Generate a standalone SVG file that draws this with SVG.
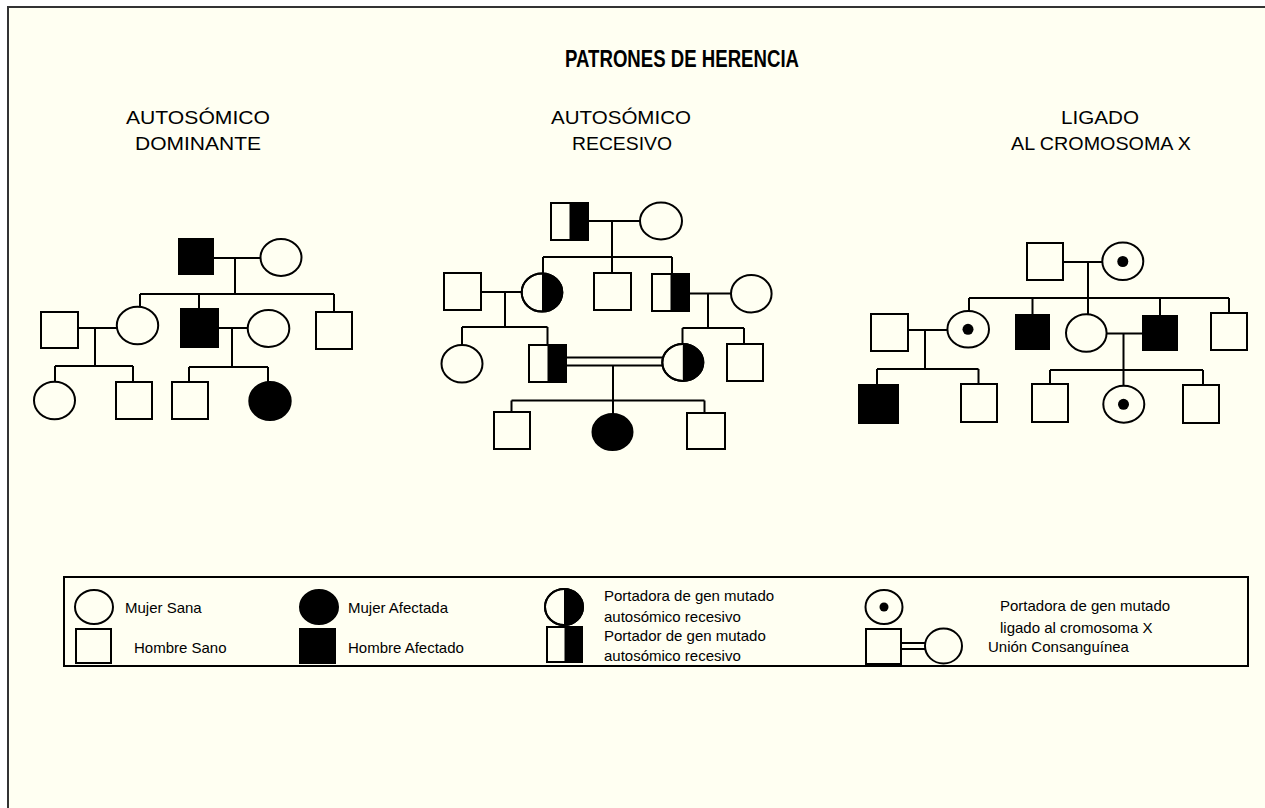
<svg xmlns="http://www.w3.org/2000/svg" width="1265" height="808" viewBox="0 0 1265 808">
<style>
.ln{stroke:#000;stroke-width:2;fill:none}
.o{fill:#FFFFF2;stroke:#000;stroke-width:2}
.f{fill:#000;stroke:#000;stroke-width:2}
.k{fill:#000;stroke:none}
.t{font-family:"Liberation Sans",Arial,sans-serif;fill:#000}
.sub{font-size:18px}
.lg{font-size:15px}
</style>
<rect x="0" y="0" width="1265" height="808" fill="#FFFFFF"/>
<rect x="8" y="7" width="1257" height="801" fill="#FFFFF2"/>
<path d="M8 808 V7 H1265" stroke="#333" stroke-width="2" fill="none"/>

<text class="t" x="682" y="67" font-size="23" font-weight="bold" text-anchor="middle" textLength="234" lengthAdjust="spacingAndGlyphs">PATRONES DE HERENCIA</text>

<g id="title-ad">
<text class="t sub" x="198" y="124" text-anchor="middle" textLength="144" lengthAdjust="spacingAndGlyphs">AUTOSÓMICO</text>
<text class="t sub" x="198" y="150" text-anchor="middle" textLength="126" lengthAdjust="spacingAndGlyphs">DOMINANTE</text>
</g>
<g id="title-ar">
<text class="t sub" x="621" y="124" text-anchor="middle" textLength="140" lengthAdjust="spacingAndGlyphs">AUTOSÓMICO</text>
<text class="t sub" x="622" y="150" text-anchor="middle" textLength="100" lengthAdjust="spacingAndGlyphs">RECESIVO</text>
</g>
<g id="title-x">
<text class="t sub" x="1100" y="124" text-anchor="middle" textLength="78" lengthAdjust="spacingAndGlyphs">LIGADO</text>
<text class="t sub" x="1101" y="150" text-anchor="middle" textLength="180" lengthAdjust="spacingAndGlyphs">AL CROMOSOMA X</text>
</g>

<g id="connectors">
<path class="ln" d="M213 258H260 M235 258V294 M140 294H334 M140 294V307 M199 294V309 M334 294V312 M78 328H117 M95 328V366 M55 366H133 M55 366V382 M133 366V382 M218 328H248 M232 328V367 M189 367H268 M189 367V382 M268 367V382"/>
<path class="ln" d="M588 221H640 M612 221V257 M543 257H672 M543 257V273.5 M612 257V273 M672 257V274 M481 292H522 M505 292V327 M462 327H547.5 M462 327V345 M547.5 327V345 M689 293.5H731 M708 293.5V328 M682.5 328H744 M682.5 328V344 M744 328V344 M566 357.5H663 M566 365.5H663 M613 365.5V400.5 M511.5 400.5H704.5 M511.5 400.5V412 M613 400.5V414 M704.5 400.5V413"/>
<path class="ln" d="M1063 262H1102 M1088 262V298 M969 298H1229 M969 298V311 M1032.5 298V315 M1088 298V314.5 M1160 298V316 M1229 298V313 M908 330H947.5 M925 330V369 M877 369H978.5 M877 369V385 M978.5 369V384 M1106.5 333.5H1143 M1123.5 333.5V386 M1050 370H1203 M1050 370V384 M1203 370V385"/>
</g>

<!-- Autosómico dominante -->
<g id="ad-I1"><rect class="f" x="179" y="239" width="34" height="35"/></g>
<g id="ad-I2"><ellipse class="o" cx="281" cy="257.5" rx="20.5" ry="18.5"/></g>
<g id="ad-II1"><rect class="o" x="41" y="312" width="37" height="36"/></g>
<g id="ad-II2"><ellipse class="o" cx="137.5" cy="325.5" rx="20.7" ry="18.7"/></g>
<g id="ad-II3"><rect class="f" x="181" y="309" width="37" height="38"/></g>
<g id="ad-II4"><ellipse class="o" cx="268.5" cy="328.5" rx="20.8" ry="18.5"/></g>
<g id="ad-II5"><rect class="o" x="316" y="312" width="36" height="37"/></g>
<g id="ad-III1"><ellipse class="o" cx="54.5" cy="400.5" rx="20.5" ry="18.7"/></g>
<g id="ad-III2"><rect class="o" x="116" y="382" width="36" height="37"/></g>
<g id="ad-III3"><rect class="o" x="172" y="382" width="36" height="37"/></g>
<g id="ad-III4"><ellipse class="f" cx="270" cy="401" rx="20.7" ry="19"/></g>

<!-- Autosómico recesivo -->
<g id="ar-I1"><rect class="o" x="551" y="203" width="37" height="37"/><rect class="k" x="569.5" y="203" width="18.5" height="37"/><rect class="ln" x="551" y="203" width="37" height="37"/></g>
<g id="ar-I2"><ellipse class="o" cx="661" cy="221" rx="21" ry="18.5"/></g>
<g id="ar-II1"><rect class="o" x="444" y="273" width="37" height="37"/></g>
<g id="ar-II2"><ellipse class="o" cx="542" cy="292.5" rx="20.3" ry="19"/><path class="k" d="M542 273.5A20.3 19 0 0 1 542 311.5Z"/><ellipse class="ln" cx="542" cy="292.5" rx="20.3" ry="19"/></g>
<g id="ar-II3"><rect class="o" x="594" y="273" width="37" height="37"/></g>
<g id="ar-II4"><rect class="o" x="652" y="274" width="37" height="37"/><rect class="k" x="670.5" y="274" width="18.5" height="37"/><rect class="ln" x="652" y="274" width="37" height="37"/></g>
<g id="ar-II5"><ellipse class="o" cx="751.3" cy="293.7" rx="20.3" ry="18.7"/></g>
<g id="ar-III1"><ellipse class="o" cx="462" cy="363.7" rx="20.5" ry="18.7"/></g>
<g id="ar-III2"><rect class="o" x="529" y="345" width="37" height="37"/><rect class="k" x="547.5" y="345" width="18.5" height="37"/><rect class="ln" x="529" y="345" width="37" height="37"/></g>
<g id="ar-III3"><ellipse class="o" cx="682.8" cy="362.5" rx="20.5" ry="18.5"/><path class="k" d="M682.8 344A20.5 18.5 0 0 1 682.8 381Z"/><ellipse class="ln" cx="682.8" cy="362.5" rx="20.5" ry="18.5"/></g>
<g id="ar-III4"><rect class="o" x="727" y="344" width="36" height="37"/></g>
<g id="ar-IV1"><rect class="o" x="494" y="412" width="36" height="37"/></g>
<g id="ar-IV2"><ellipse class="f" cx="612.5" cy="432" rx="20" ry="18"/></g>
<g id="ar-IV3"><rect class="o" x="687" y="413" width="38" height="36"/></g>

<!-- Ligado al cromosoma X -->
<g id="x-I1"><rect class="o" x="1027" y="243" width="36" height="37"/></g>
<g id="x-I2"><ellipse class="o" cx="1122.8" cy="261.3" rx="20.5" ry="18.7"/><circle class="k" cx="1122.8" cy="261.5" r="5.5"/></g>
<g id="x-II1"><rect class="o" x="871" y="314" width="37" height="37"/></g>
<g id="x-II2"><ellipse class="o" cx="968.2" cy="329.3" rx="20.8" ry="18.3"/><circle class="k" cx="968" cy="329.3" r="5.5"/></g>
<g id="x-II3"><rect class="f" x="1016" y="315" width="33" height="34"/></g>
<g id="x-II4"><ellipse class="o" cx="1086.3" cy="333" rx="20.3" ry="18.7"/></g>
<g id="x-II5"><rect class="f" x="1143" y="316" width="34" height="34"/></g>
<g id="x-II6"><rect class="o" x="1211" y="313" width="36" height="37"/></g>
<g id="x-III1"><rect class="f" x="859" y="385" width="39" height="38"/></g>
<g id="x-III2"><rect class="o" x="961" y="384" width="36" height="38"/></g>
<g id="x-III3"><rect class="o" x="1032" y="384" width="36" height="38"/></g>
<g id="x-III4"><ellipse class="o" cx="1123.8" cy="404.2" rx="20.5" ry="18.5"/><circle class="k" cx="1123.5" cy="404.3" r="5.5"/></g>
<g id="x-III5"><rect class="o" x="1183" y="385" width="36" height="38"/></g>

<!-- Legend -->
<g id="legend">
<rect x="64" y="577" width="1184" height="89" fill="none" stroke="#000" stroke-width="2"/>
<g id="lg-mujer-sana"><ellipse class="o" cx="94" cy="607" rx="19" ry="17"/><text class="t lg" x="125" y="613">Mujer Sana</text></g>
<g id="lg-mujer-afectada"><ellipse class="f" cx="319" cy="607" rx="19" ry="17"/><text class="t lg" x="348" y="613">Mujer Afectada</text></g>
<g id="lg-portadora-ar"><ellipse class="o" cx="564" cy="607" rx="19" ry="18"/><path class="k" d="M564 589A19 18 0 0 1 564 625Z"/><ellipse class="ln" cx="564" cy="607" rx="19" ry="18"/><text class="t lg" x="604" y="601">Portadora de gen mutado</text><text class="t lg" x="604" y="622">autosómico recesivo</text></g>
<g id="lg-portadora-x"><ellipse class="o" cx="884" cy="607" rx="18.5" ry="17"/><circle class="k" cx="884" cy="607" r="4.5"/><text class="t lg" x="1000" y="611">Portadora de gen mutado</text><text class="t lg" x="1000" y="633">ligado al cromosoma X</text></g>
<g id="lg-hombre-sano"><rect class="o" x="76" y="629" width="35" height="34"/><text class="t lg" x="134" y="653">Hombre Sano</text></g>
<g id="lg-hombre-afectado"><rect class="f" x="300" y="629" width="35" height="34"/><text class="t lg" x="348" y="653">Hombre Afectado</text></g>
<g id="lg-portador-ar"><rect class="o" x="547" y="627" width="35" height="35"/><rect class="k" x="564.5" y="627" width="17.5" height="35"/><rect class="ln" x="547" y="627" width="35" height="35"/><text class="t lg" x="604" y="641">Portador de gen mutado</text><text class="t lg" x="604" y="661">autosómico recesivo</text></g>
<g id="lg-union"><rect class="o" x="866" y="629" width="35" height="35"/><path class="ln" d="M901 643H925 M901 649H925"/><ellipse class="o" cx="943.5" cy="646" rx="18.5" ry="17.5"/><text class="t lg" x="988" y="652">Unión Consanguínea</text></g>
</g>
</svg>
